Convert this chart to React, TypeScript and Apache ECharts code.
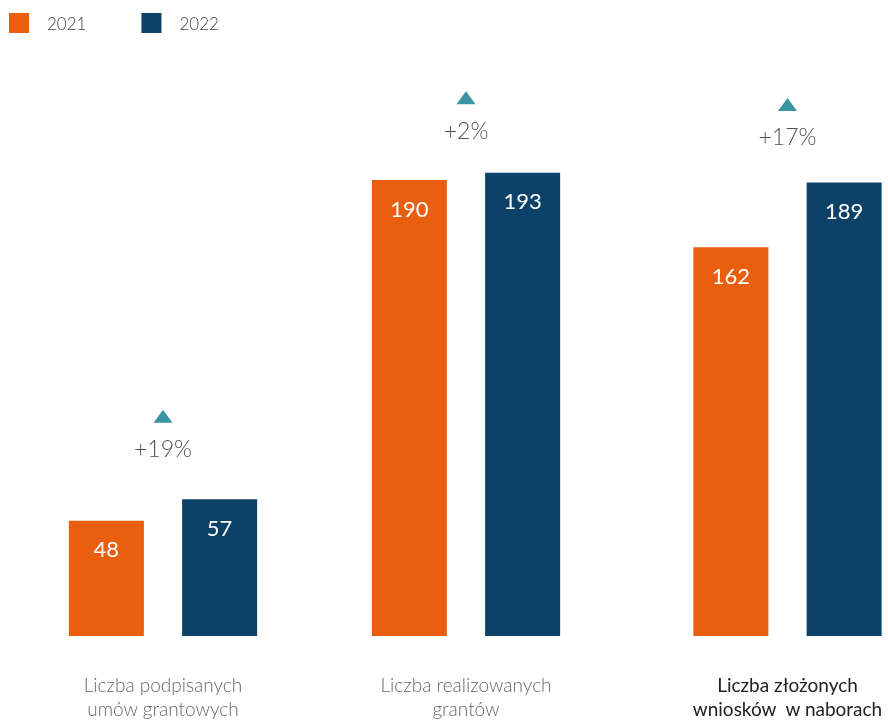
import React, { useEffect, useRef } from "react";
import * as echarts from "echarts";

const categories = [
  "Liczba podpisanych\numów grantowych",
  "Liczba realizowanych\ngrantów",
  "Liczba złożonych\nwniosków  w naborach",
];
const seriesNames = ["2021", "2022"];
const values2021 = [48, 190, 162];
const values2022 = [57, 193, 189];
const changeLabels = ["+19%", "+2%", "+17%"];

// layout constants (not data)
const groupCenters = [163, 466, 787.5];
const annotationLift = [83, 75, 78];
const labelColors = ["#666666", "#666666", "#222222"];
const labelWeights = [300, 300, 400];
const COLORS = ["#E95E0F", "#0C4168"];
const FONT = "Lato";

export default function App() {
  const ref = useRef<HTMLDivElement>(null);
  useEffect(() => {
    if (!ref.current) return;
    const chart = echarts.init(ref.current, null, { renderer: "svg" });
    const gridW = 200;
    const grids = groupCenters.map((c) => ({
      left: c - gridW / 2,
      width: gridW,
      top: 156,
      bottom: 80,
    }));
    const xAxes = categories.map((cat, i) => ({
      type: "category",
      gridIndex: i,
      data: [cat],
      axisLine: { show: false },
      axisTick: { show: false },
      axisLabel: {
        margin: 36,
        fontFamily: FONT,
        fontSize: 19,
        lineHeight: 24,
        color: labelColors[i],
        fontWeight: labelWeights[i],
        interval: 0,
      },
    }));
    const yAxes = categories.map((_, i) => ({
      type: "value",
      gridIndex: i,
      min: 0,
      max: 200,
      show: false,
      splitLine: { show: false },
    }));
    const series: any[] = [];
    categories.forEach((_, i) => {
      [values2021, values2022].forEach((vals, s) => {
        series.push({
          type: "bar",
          name: seriesNames[s],
          xAxisIndex: i,
          yAxisIndex: i,
          data: [vals[i]],
          barWidth: 75,
          barGap: "51%",
          itemStyle: { color: COLORS[s] },
          label: {
            show: true,
            position: "insideTop",
            distance: 17,
            color: "#ffffff",
            fontFamily: FONT,
            fontSize: 22,
          },
        });
      });
      series.push({
        type: "scatter",
        xAxisIndex: i,
        yAxisIndex: i,
        clip: false,
        silent: true,
        data: [Math.max(values2021[i], values2022[i])],
        symbol: "triangle",
        symbolSize: [19, 13],
        symbolOffset: [0, -annotationLift[i]],
        itemStyle: { color: "#067A8A" },
        label: {
          show: true,
          position: "bottom",
          distance: 14,
          formatter: changeLabels[i],
          color: "#222222",
          fontFamily: FONT,
          fontWeight: 300,
          fontSize: 23,
        },
      });
    });
    chart.setOption({
      animation: false,
      legend: {
        left: 4,
        top: 8,
        icon: "rect",
        itemWidth: 20,
        itemHeight: 20,
        itemGap: 55,
        data: seriesNames,
        textStyle: {
          fontFamily: FONT,
          fontWeight: 300,
          fontSize: 17,
          color: "#444444",
          padding: [0, 0, 0, 13],
        },
      },
      grid: grids,
      xAxis: xAxes,
      yAxis: yAxes,
      series,
    });
    return () => chart.dispose();
  }, []);
  return (
    <div
      ref={ref}
      style={{ position: "fixed", left: 0, top: 0, width: 888, height: 720 }}
    />
  );
}
